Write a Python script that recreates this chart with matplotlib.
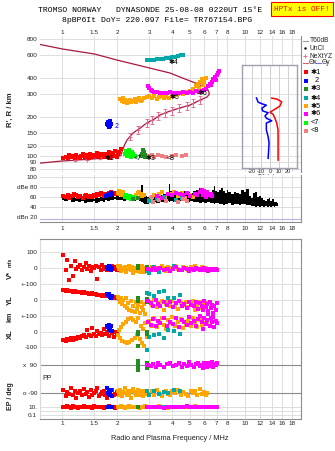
"""
Dynasonde ionogram summary: virtual height traces, echo amplitude,
velocity / location / polarisation panels and a tilt inset.
"""

import matplotlib
matplotlib.use("Agg")
import matplotlib.pyplot as plt
import numpy as np
from matplotlib.lines import Line2D
from matplotlib.patches import Rectangle

plt.rcParams['font.family'] = ['Liberation Sans', 'DejaVu Sans']

W, H = 335, 451

# ---- axis ticks -------------------------------------------------------------
freq_ticks = [1, 1.5, 2, 3, 4, 5, 6, 7, 8, 10, 12, 14, 16, 18]
freq_labels = ["1", "1.5", "2", "3", "4", "5", "6", "7", "8", "10", "12", "14", "16", "18"]
height_ticks = [80, 90, 100, 120, 150, 200, 300, 400, 600, 800]
amp_ticks = [20, 40, 60, 80, 100]
amp_labels = ["dBn 20", "40", "60", "dBe 80", "100"]
tilt_ticks = [-20, -10, 0, 10, 20]

trace_colors = ['#ff0000', '#0000ff', '#228b22', '#00a8a8',
                '#ffa500', '#ff00ff', '#00ff00', '#f08080']
trace_names = ["\u27311", "  2", "\u27313", "\u27314", "\u27315", "\u27316", "<7", "<8"]

# ---- height traces (frequency MHz, virtual height km) -----------------------
red_f = [1.02, 1.05, 1.08, 1.1, 1.12, 1.15, 1.18, 1.2, 1.23, 1.25, 1.28, 1.3, 1.33, 1.36,
         1.4, 1.43, 1.46, 1.5, 1.53, 1.56, 1.6, 1.63, 1.66, 1.7, 1.73, 1.76, 1.8, 1.83,
         1.86, 1.9, 1.93, 1.96, 2.0, 2.03, 2.06, 2.1]
red_h = [96, 99, 97, 101, 98, 100, 97, 102, 99, 96, 100, 103, 98, 101,
         97, 104, 99, 102, 100, 106, 98, 103, 101, 99, 104, 100, 108, 97,
         102, 105, 100, 110, 98, 104, 107, 114]
blue_f = [1.76, 1.78, 1.8, 1.82, 1.84, 1.8, 1.86, 1.78, 1.83]
blue_h = [178, 172, 175, 181, 186, 168, 176, 184, 170]
green_f = [2.7, 2.75, 2.8, 2.83, 2.86, 2.78]
green_h = [100, 104, 108, 98, 102, 112]
teal_f = [2.9, 3.0, 3.1, 3.2, 3.3, 3.4, 3.55, 3.7, 3.85, 4.0, 4.15, 4.3, 4.45, 4.6]
teal_h = [550, 552, 550, 553, 556, 558, 562, 567, 572, 578, 583, 590, 598, 606]
orange_f = [2.08, 2.12, 2.15, 2.18, 2.22, 2.26, 2.3, 2.35, 2.4, 2.45, 2.5, 2.55, 2.6, 2.65,
            2.7, 2.75, 2.8, 2.9, 3.0, 3.1, 3.2, 3.3, 3.4, 3.5, 3.6, 3.7, 3.85, 4.0,
            4.15, 4.3, 4.45, 4.6, 4.8, 5.0, 5.2, 5.4, 5.55, 5.7, 5.85, 6.0, 5.9, 5.6,
            6.1, 5.3]
orange_h = [275, 268, 280, 262, 270, 258, 265, 272, 260, 268, 275, 262, 270, 278,
            266, 272, 282, 285, 290, 278, 288, 275, 283, 292, 280, 287, 282, 290,
            296, 300, 305, 300, 310, 318, 330, 345, 360, 372, 390, 375, 350, 335,
            400, 320]
magenta_f = [2.95, 3.0, 3.05, 3.1, 3.2, 3.3, 3.45, 3.6, 3.75, 3.9, 4.05, 4.2, 4.4, 4.6,
             4.8, 5.0, 5.2, 5.4, 5.6, 5.8, 6.0, 6.15, 6.3, 6.45, 6.6, 6.7, 6.85, 7.0,
             7.15, 7.25, 6.9, 6.5]
magenta_h = [345, 335, 325, 318, 312, 310, 306, 308, 305, 310, 306, 309, 305, 310,
             306, 312, 308, 315, 312, 318, 325, 330, 345, 360, 372, 390, 405, 420,
             440, 452, 385, 350]
lime_f = [2.22, 2.25, 2.28, 2.3, 2.33, 2.36, 2.4, 2.45, 2.5, 2.42]
lime_h = [104, 110, 100, 106, 112, 102, 98, 104, 100, 108]
salmon_f = [3.0, 3.1, 3.2, 3.35, 3.5, 3.7, 4.0, 4.2, 4.5, 4.75]
salmon_h = [100, 102, 99, 101, 100, 98, 100, 102, 100, 101]

# model profile and NeXtYZ real-height points
model_f = [0.75, 1.0, 1.5, 2.0, 2.1, 2.15, 2.2, 2.27, 2.44, 2.67, 2.91, 3.2, 3.43, 3.75,
           4.04, 4.5, 5.0, 5.67, 6.2, 6.38, 6.35, 6.2, 5.2, 4.41, 3.89, 3.02, 2.0, 1.51,
           1.01, 0.75]
model_h = [88, 91.5, 95, 99, 101, 112, 122, 133, 150, 164, 180, 193, 207, 218,
           226, 237, 247, 270, 285, 300, 310, 335, 372, 407, 437, 477, 550, 612,
           669, 728]
nexyz_f = [1.18, 1.37, 1.61, 1.85, 2.35, 2.6, 2.9, 3.1, 3.35, 3.65, 4.0, 4.35, 4.8, 5.2, 5.65]
nexyz_h = [93, 94, 96, 98, 141, 160, 180, 189, 203, 215, 225, 234, 243, 255, 269]
nexyz_err = [1, 1, 1, 1, 9, 11, 12, 13, 14, 15, 16, 16, 17, 18, 19]

# tilt profiles (height km, tilt deg)
tilt_x_h = [93, 159, 180, 196, 210, 218, 230, 243, 262, 275, 280]
tilt_x = [9, 9, 7.5, 5.5, 3.5, 0, 5.5, 11, 13, 8, 2]
tilt_y_h = [96, 126, 141, 159, 180, 187, 196, 204, 216, 223, 234, 247, 252, 260, 281]
tilt_y = [-2, -1, -2, -4, -4, 2, -4, -5.5, -2, -8, -9, -4, -8, -13, -15]

# ---- echo amplitude (dB) ----------------------------------------------------
amp_f = [1.0, 1.05, 1.1, 1.15, 1.2, 1.25, 1.3, 1.35, 1.4, 1.45, 1.5, 1.55, 1.6, 1.65,
         1.7, 1.75, 1.8, 1.85, 1.9, 1.95, 2.0, 2.1, 2.2, 2.3, 2.4, 2.5, 2.6, 2.7,
         2.74, 2.78, 2.85, 2.95, 3.05, 3.2, 3.35, 3.5, 3.65, 3.8, 3.85, 3.95, 4.1, 4.3,
         4.5, 4.7, 4.9, 5.1, 5.3, 5.5, 5.7, 5.9, 6.1, 6.3, 6.5, 6.7, 6.8, 6.9,
         7.1, 7.3, 7.5, 7.7, 7.9, 8.0, 8.2, 8.5, 8.8, 9.1, 9.4, 9.7, 10.0, 10.3,
         10.6, 10.9, 11.2, 11.5, 11.8, 12.1, 12.4, 12.7, 13.0, 13.3, 13.6, 13.9, 14.2, 14.5,
         14.8, 15.1]
amp_top = [61, 60, 58, 60, 57, 59, 56, 58, 55, 57, 56, 58, 57, 60,
           58, 60, 61, 59, 62, 60, 61, 60, 62, 60, 63, 61, 62, 64,
           84, 66, 62, 60, 62, 64, 61, 63, 66, 70, 86, 72, 68, 70,
           68, 72, 70, 68, 71, 74, 78, 72, 70, 68, 70, 74, 82, 72,
           70, 74, 78, 72, 68, 74, 70, 66, 70, 68, 66, 74, 70, 76,
           62, 58, 68, 70, 60, 62, 58, 54, 52, 56, 58, 52, 56, 49,
           50, 47]
amp_bottom = [54, 52, 53, 50, 51, 49, 52, 48, 50, 49, 51, 48, 50, 52,
              50, 53, 52, 54, 53, 55, 53, 54, 52, 54, 53, 52, 54, 51,
              50, 48, 46, 45, 47, 49, 48, 50, 49, 51, 50, 52, 50, 52,
              51, 53, 50, 52, 50, 49, 48, 50, 47, 49, 48, 47, 46, 48,
              47, 45, 46, 44, 46, 45, 47, 44, 46, 45, 44, 46, 45, 43,
              44, 41, 42, 40, 41, 40, 41, 40, 41, 40, 41, 40, 41, 40,
              41, 42]

amp_red_f = [1.02, 1.05, 1.08, 1.1, 1.13, 1.16, 1.2, 1.23, 1.26, 1.3, 1.33, 1.36, 1.4, 1.43,
             1.46, 1.5, 1.53, 1.56, 1.6, 1.63, 1.66, 1.7, 1.73, 1.76, 1.8, 1.85, 1.9, 1.95, 1.98]
amp_red = [62, 60, 63, 58, 61, 66, 64, 60, 62, 58, 61, 64, 60, 62,
           59, 63, 61, 66, 64, 68, 65, 62, 66, 63, 67, 70, 65, 68, 66]
amp_blue_f = [1.75, 1.78, 1.8, 1.83, 1.86, 1.88]
amp_blue = [62, 64, 66, 63, 68, 65]
amp_orange_f = [2.02, 2.05, 2.08, 2.12, 2.15, 2.2, 2.55, 2.6, 2.65, 2.7, 2.75, 2.8, 3.05, 3.2,
                3.4, 3.5, 3.65, 3.9, 4.1, 4.3, 4.5, 4.7, 5.0, 5.2]
amp_orange = [68, 72, 66, 64, 70, 62, 64, 68, 70, 66, 62, 64, 58, 64,
              66, 70, 60, 66, 70, 62, 68, 58, 64, 60]
amp_lime_f = [2.2, 2.25, 2.3, 2.35, 2.4, 2.45, 2.5]
amp_lime = [60, 64, 58, 62, 56, 60, 58]
amp_green_f = [2.45, 2.6, 3.0]
amp_green = [56, 58, 54]
amp_teal_f = [3.0, 3.3, 3.6, 4.2, 4.5]
amp_teal = [52, 56, 60, 54, 58]
amp_salmon_f = [3.1, 3.15, 3.4, 3.7, 4.3, 4.6, 4.8]
amp_salmon = [60, 50, 54, 52, 50, 56, 52]
amp_magenta_f = [3.3, 3.5, 3.8, 4.0, 4.2, 4.4, 4.6, 4.8, 5.0, 5.3, 5.5, 5.7, 5.85, 5.95,
                 6.05, 6.2, 6.35, 6.5, 6.6, 5.9, 6.1]
amp_magenta = [62, 58, 66, 64, 68, 66, 64, 68, 62, 66, 64, 70, 74, 72,
               68, 70, 64, 66, 62, 64, 60]

# ---- velocity, echolocation, polarisation -----------------------------------
# columns: frequency, V* (m/s), YL (km), XL (km), PP (deg), EP (deg)
low_red = dict(
    f=[1.02, 1.05, 1.07, 1.1, 1.12, 1.15, 1.18, 1.2, 1.23, 1.26, 1.29, 1.32, 1.35, 1.38, 1.41, 1.44,
       1.47, 1.5, 1.53, 1.56, 1.6, 1.63, 1.66, 1.7, 1.73, 1.76, 1.8, 1.84, 1.88, 1.92, 1.96, 2.0],
    v=[83, -15, 52, -73, 10, -52, 42, -8, 5, 21, -12, 8, 31, -5, 15, -20,
       6, -3, 12, -69, 4, -10, 18, -6, 9, -14, 3, -8, 12, -4, 7, -10],
    yl=[62, 58, 60, 55, 57, 52, 55, 50, 48, 52, 45, 47, 42, 44, 40, 38,
        41, 35, 37, 32, 34, 30, 28, 31, 25, 22, 24, 18, 20, 15, 17, 12],
    xl=[-50, -55, -45, -52, -40, -48, -35, -42, -30, -38, -25, -20, -32, 15, -18, -28,
        25, -12, -22, 8, -15, -5, -20, 20, -10, -2, -25, 5, -8, -30, 0, -12],
    pp=[-70, -110, -85, -95, -60, -100, -80, -120, -90, -75, -105, -65, -95, -85, -115, -70,
        -100, -90, -80, -60, -110, -95, -85, -75, -100, -120, -90, -80, -70, -105, -95, -85],
    ep=[12, 8, 15, 10, 6, 14, 9, 11, 7, 13, 10, 16, 8, 12, 9, 11,
        7, 14, 10, 8, 13, 9, 12, 6, 11, 10, 15, 8, 12, 9, 7, 10],
)
low_blue = dict(
    f=[1.76, 1.78, 1.8, 1.82, 1.84, 1.86, 1.88],
    v=[5, -8, 12, -3, 8, -10, 2],
    yl=[38, 30, 25, 35, 20, 15, 28],
    xl=[40, 30, 45, 20, 10, 35, 5],
    pp=[-60, -90, -100, -80, -95, -70, -110],
    ep=[10, 8, 12, 9, 11, 10, 13],
)
low_green = dict(
    f=[2.6, 2.6, 2.62, 2.9, 2.92, 2.6],
    v=[10, 0, 5, -5, 5, -2],
    yl=[-5, 10, 0, 5, -10, 0],
    xl=[-15, -85, 0, 0, -10, -5],
    pp=[115, 95, 60, 70, 100, 85],
    ep=[10, 8, 12, 9, 11, 10],
)
low_teal = dict(
    f=[2.9, 3.0, 3.2, 3.4, 3.6, 3.8, 4.1, 4.4],
    v=[-20, -30, 5, -25, -15, -8, 10, -12],
    yl=[45, 35, 25, 50, 55, 15, 10, 30],
    xl=[-110, -30, -20, -10, -35, 15, 5, -15],
    pp=[-80, -100, -75, -95, -85, -90, -70, -80],
    ep=[9, 11, 10, 8, 12, 10, 9, 11],
)
low_orange = dict(
    f=[2.02, 2.05, 2.08, 2.1, 2.13, 2.16, 2.2, 2.23, 2.26, 2.3, 2.34, 2.38, 2.42, 2.46, 2.5, 2.54,
       2.58, 2.62, 2.66, 2.7, 2.74, 2.78, 2.82, 2.86, 2.9,
       3.0, 3.1, 3.2, 3.3, 3.4, 3.5, 3.6, 3.7, 3.8, 3.9, 4.0, 4.15, 4.3, 4.45, 4.6, 4.75,
       4.9, 5.05, 5.2, 5.35, 5.5, 5.65, 5.8, 5.95, 6.1, 6.2],
    v=[10, -5, 15, -20, 3, -12, 8, -25, 0, -8, 12, -15, 5, -30, -10, 2,
       -18, 6, -22, -5, 10, -12, -28, -3, -15,
       -5, 8, -12, 3, -8, 15, -3, -18, 5, -10, 2, 12, -6, -15, 8, -2,
       -12, 4, -8, 10, -5, -14, 6, -9, 3, -6],
    yl=[20, 5, -10, 15, -25, 0, -35, 10, -50, -20, -60, -5, -70, -40, -75, -15,
        -55, -30, -80, -10, -45, -65, -25, -85, -5,
        -10, -30, 5, -45, -20, -5, -60, -25, -15, -40, -8, -35, -55, -20, -30, -10,
        -45, -25, -5, -60, -35, -15, -50, -25, -40, -20],
    xl=[-20, 10, -40, 30, -55, 50, -60, 65, -70, 80, -65, 90, -50, 75, -35, 60,
        -20, 85, -45, 40, -70, 20, -85, 55, -30,
        70, 40, 90, 30, 60, 85, 45, 20, 75, 55, 95, 35, 65, 80, 25, 50,
        70, 40, 90, 60, 30, 75, 45, 85, 55, 65],
    pp=[-80, -100, -70, -95, -110, -85, -60, -90, -100, -75, -95, -120, -80, -65, -90, -105,
        -85, -70, -100, -90, -80, -110, -75, -95, -88,
        -95, -80, -100, -70, -90, -110, -85, -75, -95, -105, -80, -90, -70, -100, -85, -95,
        -110, -75, -90, -80, -100, -65, -95, -85, -105, -90],
    ep=[8, 12, 10, 15, 9, 11, 7, 13, 10, 8, 14, 9, 11, 12, 8, 10,
        13, 9, 7, 11, 10, 12, 9, 14, 10,
        10, 12, 8, 11, 14, 9, 10, 13, 7, 11, 12, 9, 10, 8, 13, 11,
        9, 12, 10, 14, 8, 11, 9, 10, 12, 10],
)
low_magenta = dict(
    f=[2.95, 3.05, 3.15, 3.25, 3.35, 3.45, 3.6, 3.75, 3.9, 4.05, 4.2, 4.35, 4.5, 4.65, 4.8, 4.95,
       5.1, 5.25, 5.4, 5.55, 5.7, 5.8, 5.9, 6.0, 6.1, 6.2, 6.3, 6.4, 6.5, 6.6, 6.7, 6.8,
       6.9, 7.0],
    v=[-5, -10, 3, -15, -8, 2, -12, -4, -18, -6, 5, -10, -14, -2, -8, -16,
       -5, -12, -3, -9, -15, -6, -11, -2, -13, -7, -17, -4, -10, -14, -6, -12,
       -8, -15],
    yl=[-5, -20, -35, 0, -25, -40, -10, -30, -15, -45, -20, -5, -35, -25, -50, -10,
        -30, -40, -15, -55, -20, -35, -60, -5, -45, -25, -70, -15, -50, -30, -80, -40,
        -65, -20],
    xl=[60, 45, 80, 35, 70, 55, 90, 40, 65, 50, 85, 30, 75, 60, 45, 95,
        55, 70, 35, 80, 100, 65, 20, 90, 50, 75, 110, 40, 85, 60, 95, 30,
        70, 55],
    pp=[90, 85, 95, 80, 100, 90, 75, 95, 105, 85, 90, 100, 80, 95, 85, 110,
        90, 75, 95, 100, 85, 90, 70, 105, 95, 80, 100, 90, 85, 110, 75, 95,
        90, 100],
    ep=[10, 8, 12, 9, 11, 10, 7, 13, 10, 9, 12, 8, 11, 10, 14, 9,
        10, 12, 8, 11, 10, 13, 9, 12, 8, 10, 11, 9, 12, 10, 8, 11,
        9, 10],
)

# row layout of the lower panel (panel units, 1 unit ~ 1 pixel)
V_ZERO, YL_ZERO, XL_ZERO = 151, 119, 87
ROW_SCALE = 0.16          # units per m/s or km
PP_MID, PP_SCALE = 40, 14 / 90
EP_MID, EP_SCALE = 8, 4   # units per decade

low_ticks = [167, 151, 135, 119, 103, 87, 72, 54, 26, 12, 4]
low_labels = ["100", "0", "+-100", "0", "+-100", "0", "-100", "x  90", "o -90", "10.", "0.1"]

GRID = '#d9d9d9'
SPINE = '#8c8c8c'
TEXT = '#222222'
MODEL = '#a8183c'
NEXYZ = '#e0608a'


def fx(x):
  return x / W


def fy(y):
  return 1 - y / H


def freq_axis(ax):
  ax.set_xscale('log')
  ax.set_xlim(0.76, 20.2)
  ax.set_xticks(freq_ticks)
  ax.set_xticklabels(freq_labels)
  ax.xaxis.set_minor_locator(matplotlib.ticker.NullLocator())
  ax.tick_params(axis='both', length=0, labelsize=4.6, colors=TEXT)
  for x in freq_ticks:
    ax.axvline(x, color=GRID, lw=0.6, zorder=0)


def dots(ax, f, y, color, size=2.4, z=3):
  ax.plot(f, y, 's', ms=size, mew=0, color=color, zorder=z)


fig = plt.figure(figsize=(W / 100, H / 100), dpi=100)

# ---- header -----------------------------------------------------------------
mono = ['Liberation Mono', 'DejaVu Sans Mono']
fig.text(fx(150), fy(11), "TROMSO NORWAY   DYNASONDE 25-08-08 0220UT 15\u00b0E",
         family=mono, fontsize=5.9, ha='center', va='center', color='black')
fig.text(fx(157), fy(20), "8pBP6It DoY= 220.097 File= TR767154.BPG",
         family=mono, fontsize=5.9, ha='center', va='center', color='black')
fig.add_artist(Rectangle((fx(271), fy(16)), fx(62), 14 / H, transform=fig.transFigure,
                         facecolor='#ffff00', edgecolor='#ff0000', lw=0.8))
fig.text(fx(302), fy(9.5), "HPTx is OFF!", family=mono, fontsize=5.6,
         ha='center', va='center', color='#ff0000')

# ---- virtual height panel ---------------------------------------------------
ax_h = fig.add_axes([fx(40), fy(172), 261 / W, 136 / H])
freq_axis(ax_h)
ax_h.set_yscale('log')
ax_h.set_ylim(75.3, 843)
ax_h.set_yticks(height_ticks)
ax_h.set_yticklabels([str(t) for t in height_ticks])
ax_h.yaxis.set_minor_locator(matplotlib.ticker.NullLocator())
ax_h.xaxis.tick_top()
ax_h.tick_params(axis='x', pad=0.5)
ax_h.tick_params(axis='y', pad=2)
for t in height_ticks:
  ax_h.axhline(t, color=GRID, lw=0.6, zorder=0)
for side in ['top', 'left', 'bottom']:
  ax_h.spines[side].set_visible(False)
ax_h.spines['right'].set_color(SPINE)

ax_h.plot(model_f, model_h, color=MODEL, lw=0.9, zorder=2)
ax_h.errorbar(nexyz_f, nexyz_h, yerr=nexyz_err, fmt='+', ms=2.5, mew=0.6,
              color=NEXYZ, elinewidth=0.6, capsize=1.5, capthick=0.6, zorder=2)

dots(ax_h, red_f, red_h, trace_colors[0])
dots(ax_h, blue_f, blue_h, trace_colors[1])
dots(ax_h, green_f, green_h, trace_colors[2])
dots(ax_h, teal_f, teal_h, trace_colors[3])
dots(ax_h, orange_f, orange_h, trace_colors[4])
dots(ax_h, magenta_f, magenta_h, trace_colors[5])
dots(ax_h, lime_f, lime_h, trace_colors[6])
dots(ax_h, salmon_f, salmon_h, trace_colors[7])

# trace labels
for f, h, s, c in [(1.72, 96, "\u27311", 'black'), (1.95, 168, "2", '#0000ff'),
                   (2.45, 96, "<7", 'black'), (2.88, 96, "\u27313", 'black'),
                   (3.72, 95, "<8", 'black'), (3.8, 530, "\u27314", 'black'),
                   (3.85, 282, "\u27315", 'black'), (5.5, 306, "\u27316", 'black')]:
  ax_h.text(f, h, s, fontsize=5, color=c, ha='left', va='center', zorder=5)

fig.text(fx(10), fy(110), "R', R / km", rotation=90, fontsize=5.5,
         fontweight='bold', ha='center', va='center', color=TEXT)

# ---- tilt inset -------------------------------------------------------------
ax_t = fig.add_axes([fx(242), fy(168), 55 / W, 103 / H])
ax_t.set_yscale('log')
ax_t.set_ylim(80.8, 505)
ax_t.set_xlim(-31, 30)
ax_t.set_yticks([])
ax_t.yaxis.set_minor_locator(matplotlib.ticker.NullLocator())
ax_t.set_xticks(tilt_ticks)
ax_t.set_xticklabels([str(t) for t in tilt_ticks])
ax_t.tick_params(axis='x', length=0, labelsize=4, pad=1, colors=TEXT)
ax_t.set_xlabel("Tilt / deg", fontsize=4.3, labelpad=0, color=TEXT)
for t in tilt_ticks:
  ax_t.axvline(t, color='#c8c8d0', lw=0.6, zorder=0)
for t in height_ticks:
  ax_t.axhline(t, color=GRID, lw=0.6, zorder=0)
for side in ax_t.spines.values():
  side.set_color('#a0a0b0')
  side.set_linewidth(1.0)
ax_t.plot(tilt_x, tilt_x_h, color='#ff0000', lw=1.1)
ax_t.plot(tilt_y, tilt_y_h, color='#0000ff', lw=1.1)

# ---- legend -----------------------------------------------------------------
fig.add_artist(Line2D([fx(303), fx(308)], [fy(41), fy(41)], color='#a0a0a0', lw=0.8,
                      transform=fig.transFigure))
fig.text(fx(310), fy(41), "T60dB", fontsize=4.8, va='center', color=TEXT)
fig.add_artist(Line2D([fx(305)], [fy(48)], marker='.', ms=1.5, color='black',
                      transform=fig.transFigure))
fig.text(fx(310), fy(48), "UnCl", fontsize=4.8, va='center', color=TEXT)
fig.add_artist(Line2D([fx(305)], [fy(56)], marker='+', ms=3, mew=0.6, color=NEXYZ,
                      transform=fig.transFigure))
fig.text(fx(310), fy(56), "NeXtYZ", fontsize=4.8, va='center', color=TEXT)
fig.add_artist(Line2D([fx(303), fx(308)], [fy(63), fy(63)], color='#e06070', lw=0.8,
                      transform=fig.transFigure))
fig.text(fx(308.5), fy(63), "\u0398x", fontsize=4.8, va='center', color=TEXT)
fig.add_artist(Line2D([fx(316), fx(321)], [fy(63), fy(63)], color='#7070e0', lw=0.8,
                      transform=fig.transFigure))
fig.text(fx(321.5), fy(63), "\u0398y", fontsize=4.8, va='center', color=TEXT)

legend_y = [72, 81, 89, 98, 106, 114, 123, 131]
for y, c, name in zip(legend_y, trace_colors, trace_names):
  fig.add_artist(Line2D([fx(306)], [fy(y)], marker='s', ms=2.4, mew=0, color=c,
                        transform=fig.transFigure))
  fig.text(fx(311), fy(y), name, fontsize=5.3, va='center', color='black')

# ---- amplitude panel --------------------------------------------------------
ax_a = fig.add_axes([fx(40), fy(222), 261 / W, 47 / H])
freq_axis(ax_a)
ax_a.set_ylim(10, 104)
ax_a.set_yticks(amp_ticks)
ax_a.set_yticklabels(amp_labels)
ax_a.tick_params(axis='x', pad=3)
ax_a.tick_params(axis='y', pad=2)
for t in [40, 60, 80, 100]:
  ax_a.axhline(t, color=GRID, lw=0.6, zorder=0)
ax_a.axhline(16, color='#b4b4e6', lw=0.8, zorder=0)
for side in ['top', 'left']:
  ax_a.spines[side].set_visible(False)
for side in ['right', 'bottom']:
  ax_a.spines[side].set_color(SPINE)

ax_a.fill_between(amp_f, amp_bottom, amp_top, step='mid', color='black', lw=0, zorder=2)
dots(ax_a, amp_red_f, amp_red, trace_colors[0], 2.6)
dots(ax_a, amp_blue_f, amp_blue, trace_colors[1], 2.6)
dots(ax_a, amp_orange_f, amp_orange, trace_colors[4], 2.6)
dots(ax_a, amp_lime_f, amp_lime, trace_colors[6], 2.6)
dots(ax_a, amp_green_f, amp_green, trace_colors[2], 2.6)
dots(ax_a, amp_teal_f, amp_teal, trace_colors[3], 2.6)
dots(ax_a, amp_salmon_f, amp_salmon, trace_colors[7], 2.6)
dots(ax_a, amp_magenta_f, amp_magenta, trace_colors[5], 2.6)

# ---- velocity / location / polarisation panel -------------------------------
ax_p = fig.add_axes([fx(40), fy(419), 261 / W, 180 / H])
freq_axis(ax_p)
ax_p.set_ylim(0, 180)
ax_p.set_yticks(low_ticks)
ax_p.set_yticklabels(low_labels)
ax_p.tick_params(axis='x', pad=1.5)
ax_p.tick_params(axis='y', pad=2)
for t in low_ticks + [8]:
  ax_p.axhline(t, color=GRID, lw=0.6, zorder=0)
for t in [54, 26]:
  ax_p.axhline(t, color='#8a8a8a', lw=0.8, zorder=0)
for side in ax_p.spines.values():
  side.set_color(SPINE)
ax_p.spines['left'].set_color(GRID)

for trace, c in [(low_red, trace_colors[0]), (low_blue, trace_colors[1]),
                 (low_orange, trace_colors[4]), (low_teal, trace_colors[3]),
                 (low_green, trace_colors[2]), (low_magenta, trace_colors[5])]:
  f = trace['f']
  dots(ax_p, f, V_ZERO + ROW_SCALE * np.array(trace['v']), c, 2.2)
  dots(ax_p, f, YL_ZERO + ROW_SCALE * np.array(trace['yl']), c, 2.2)
  dots(ax_p, f, XL_ZERO + ROW_SCALE * np.array(trace['xl']), c, 2.2)
  dots(ax_p, f, PP_MID + PP_SCALE * np.array(trace['pp']), c, 2.2)
  dots(ax_p, f, EP_MID + EP_SCALE * np.log10(trace['ep']), c, 2.2)

for y, s, size in [(275, "V*", 5.5), (262, "m/s", 4), (300, "YL", 5.5), (317, "km", 5),
                   (334, "XL", 5.5), (396, "EP / deg", 5)]:
  fig.text(fx(10), fy(y), s, rotation=90, fontsize=size, fontweight='bold',
           ha='center', va='center', color=TEXT)
fig.text(fx(47), fy(379), "PP", fontsize=5, ha='center', va='center', color=TEXT)

fig.text(fx(170), fy(439), "Radio and Plasma Frequency / MHz", fontsize=5.3,
         ha='center', va='center', color=TEXT)

fig.savefig("out.png", dpi=100)
plt.close(fig)
